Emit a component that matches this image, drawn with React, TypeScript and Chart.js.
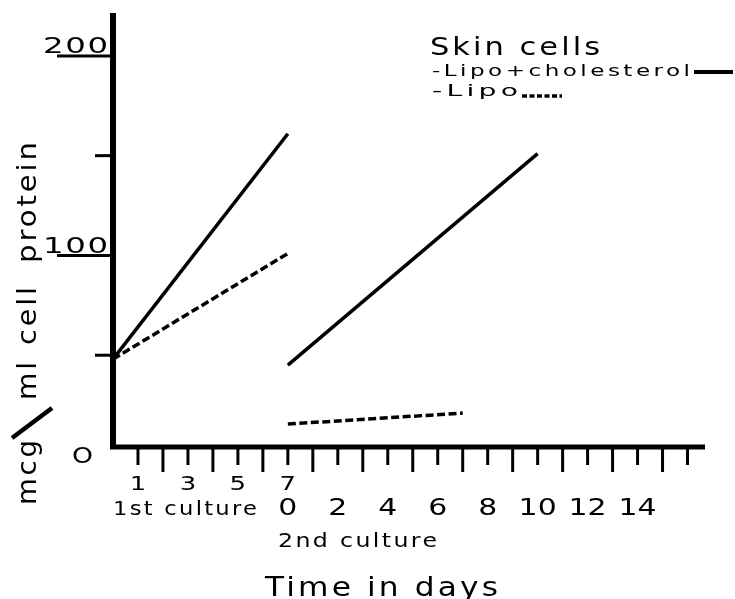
import React, { useEffect, useRef } from "react";
import { Chart, registerables } from "chart.js";
Chart.register(...registerables);

// Data (days, mcg/ml cell protein)
const firstCultureDays = [0, 7];
const lipoCholFirst = [48, 161];
const lipoFirst = [48, 101];
const secondCultureCholDays = [0, 10];
const lipoCholSecond = [45, 151];
const secondCultureLipoDays = [0, 7];
const lipoSecond = [15.5, 21];
const SECOND_OFFSET = 7; // 2nd culture day 0 == 1st culture day 7

const firstTickDays = [1, 3, 5, 7];
const firstTickLabels = ["1", "3", "5", "7"];
const secondTickDays = [0, 2, 4, 6, 8, 10, 12, 14];
const secondTickLabels = ["0", "2", "4", "6", "8", "10", "12", "14"];
const yMajorTicks = [100, 200];
const yMajorLabels = ["100", "200"];
const yMinorTicks = [50, 150];
const xTickDays = Array.from({ length: 23 }, (_, i) => i + 1);

const FONT = "'DejaVu Sans', sans-serif";

// text fitted between x1 and x2 (horizontal stretch)
function fitText(ctx: CanvasRenderingContext2D, s: string, x1: number, x2: number, base: number, size: number, spacingEm = 0.08) {
  ctx.save();
  ctx.font = `${size}px ${FONT}`;
  const sp = size * spacingEm;
  (ctx as any).letterSpacing = `${sp}px`;
  const w = ctx.measureText(s).width - sp;
  ctx.translate(x1, base);
  ctx.scale((x2 - x1) / w, 1);
  ctx.textAlign = "left";
  ctx.textBaseline = "alphabetic";
  ctx.fillStyle = "#000";
  ctx.fillText(s, 0, 0);
  ctx.restore();
}

// centered text with horizontal stretch
function centerText(ctx: CanvasRenderingContext2D, s: string, cx: number, base: number, size: number, sx: number) {
  ctx.save();
  ctx.font = `${size}px ${FONT}`;
  ctx.translate(cx, base);
  ctx.scale(sx, 1);
  ctx.textAlign = "center";
  ctx.textBaseline = "alphabetic";
  ctx.fillStyle = "#000";
  ctx.fillText(s, 0, 0);
  ctx.restore();
}

const decorPlugin = {
  id: "decor",
  beforeDatasetsDraw(chart: any) {
    const ctx: CanvasRenderingContext2D = chart.ctx;
    const xs = chart.scales.x;
    const ys = chart.scales.y;
    const ca = chart.chartArea;
    const x0 = xs.getPixelForValue(0);
    ctx.save();
    ctx.strokeStyle = "#000";
    ctx.lineCap = "butt";
    // axes
    ctx.lineWidth = 6;
    ctx.beginPath();
    ctx.moveTo(x0, ca.top);
    ctx.lineTo(x0, ca.bottom + 2);
    ctx.stroke();
    ctx.lineWidth = 5;
    ctx.beginPath();
    ctx.moveTo(x0 - 3, ca.bottom);
    ctx.lineTo(ca.right, ca.bottom);
    ctx.stroke();
    // x ticks
    ctx.lineWidth = 3;
    xTickDays.forEach((t) => {
      const px = xs.getPixelForValue(t);
      ctx.beginPath();
      ctx.moveTo(px, ca.bottom);
      ctx.lineTo(px, ca.bottom + (t % 2 ? 18 : 25));
      ctx.stroke();
    });
    // y ticks
    yMajorTicks.forEach((v) => {
      const py = ys.getPixelForValue(v);
      ctx.beginPath();
      ctx.moveTo(57, py);
      ctx.lineTo(x0, py);
      ctx.stroke();
    });
    yMinorTicks.forEach((v) => {
      const py = ys.getPixelForValue(v);
      ctx.beginPath();
      ctx.moveTo(95, py);
      ctx.lineTo(x0, py);
      ctx.stroke();
    });
    ctx.restore();

    // y labels
    yMajorTicks.forEach((v, i) => {
      fitText(ctx, yMajorLabels[i], 43, 108, ys.getPixelForValue(v) - 2.5, 22, 0.05);
    });
    fitText(ctx, "O", 72, 93, ys.getPixelForValue(0) + 8, 21, 0);

    // x labels
    firstTickDays.forEach((d, i) => {
      centerText(ctx, firstTickLabels[i], xs.getPixelForValue(d), 490, 20, 1.3);
    });
    secondTickDays.forEach((d, i) => {
      centerText(ctx, secondTickLabels[i], xs.getPixelForValue(d + SECOND_OFFSET), 515, 23, 1.3);
    });
    fitText(ctx, "1st culture", 113, 257, 515, 19, 0.1);
    fitText(ctx, "2nd culture", 278, 437, 547, 19, 0.1);
    fitText(ctx, "Time in days", 265, 498, 596, 26, 0.1);

    // y title (rotated)
    const words: [string, number, number][] = [
      ["protein", 142, 263],
      ["cell", 287, 345],
      ["ml", 362, 400],
      ["mcg", 440, 505],
    ];
    words.forEach(([w, top, bottom]) => {
      ctx.save();
      ctx.translate(36, bottom);
      ctx.rotate(-Math.PI / 2);
      fitText(ctx, w, 0, bottom - top, 0, 26, 0.1);
      ctx.restore();
    });
    ctx.save();
    ctx.strokeStyle = "#000";
    ctx.lineWidth = 4.5;
    ctx.beginPath();
    ctx.moveTo(12, 438);
    ctx.lineTo(52, 408);
    ctx.stroke();
    ctx.restore();

    // legend
    fitText(ctx, "Skin cells", 430, 600, 55, 25, 0.1);
    fitText(ctx, "-Lipo+cholesterol", 432, 690, 76, 15, 0.15);
    fitText(ctx, "-Lipo", 432, 518, 96, 15, 0.15);
    ctx.save();
    ctx.strokeStyle = "#000";
    ctx.lineWidth = 4;
    ctx.beginPath();
    ctx.moveTo(694, 72);
    ctx.lineTo(733, 72);
    ctx.stroke();
    ctx.setLineDash([5, 2.5]);
    ctx.lineWidth = 3.5;
    ctx.beginPath();
    ctx.moveTo(522, 96);
    ctx.lineTo(562, 96);
    ctx.stroke();
    ctx.restore();
  },
};

function pts(days: number[], vals: number[], off: number) {
  return days.map((d, i) => ({ x: d + off, y: vals[i] }));
}

export default function App() {
  const ref = useRef<HTMLCanvasElement | null>(null);
  useEffect(() => {
    if (!ref.current) return;
    const solid = { borderColor: "#000", borderWidth: 3.5, pointRadius: 0, showLine: true, fill: false };
    const dashed = { ...solid, borderDash: [8, 3.5], borderWidth: 3.5 };
    const chart = new Chart(ref.current, {
      type: "scatter",
      data: {
        datasets: [
          { label: "Lipo+cholesterol", data: pts(firstCultureDays, lipoCholFirst, 0), ...solid },
          { label: "Lipo", data: pts(firstCultureDays, lipoFirst, 0), ...dashed },
          { label: "Lipo+cholesterol 2nd", data: pts(secondCultureCholDays, lipoCholSecond, SECOND_OFFSET), ...solid },
          { label: "Lipo 2nd", data: pts(secondCultureLipoDays, lipoSecond, SECOND_OFFSET), ...dashed },
        ],
      },
      options: {
        animation: false,
        responsive: false,
        layout: { padding: { left: 113, top: 13, right: 30, bottom: 152 } },
        plugins: { legend: { display: false }, tooltip: { enabled: false } },
        scales: {
          x: { type: "linear", min: 0, max: 23.7, display: false },
          y: { type: "linear", min: 4, max: 221.5, display: false },
        },
      },
      plugins: [decorPlugin],
    } as any);
    return () => chart.destroy();
  }, []);
  return (
    <div style={{ position: "fixed", left: 0, top: 0, width: 735, height: 599, background: "#fff" }}>
      <canvas ref={ref} width={735} height={599} style={{ display: "block" }} />
    </div>
  );
}
